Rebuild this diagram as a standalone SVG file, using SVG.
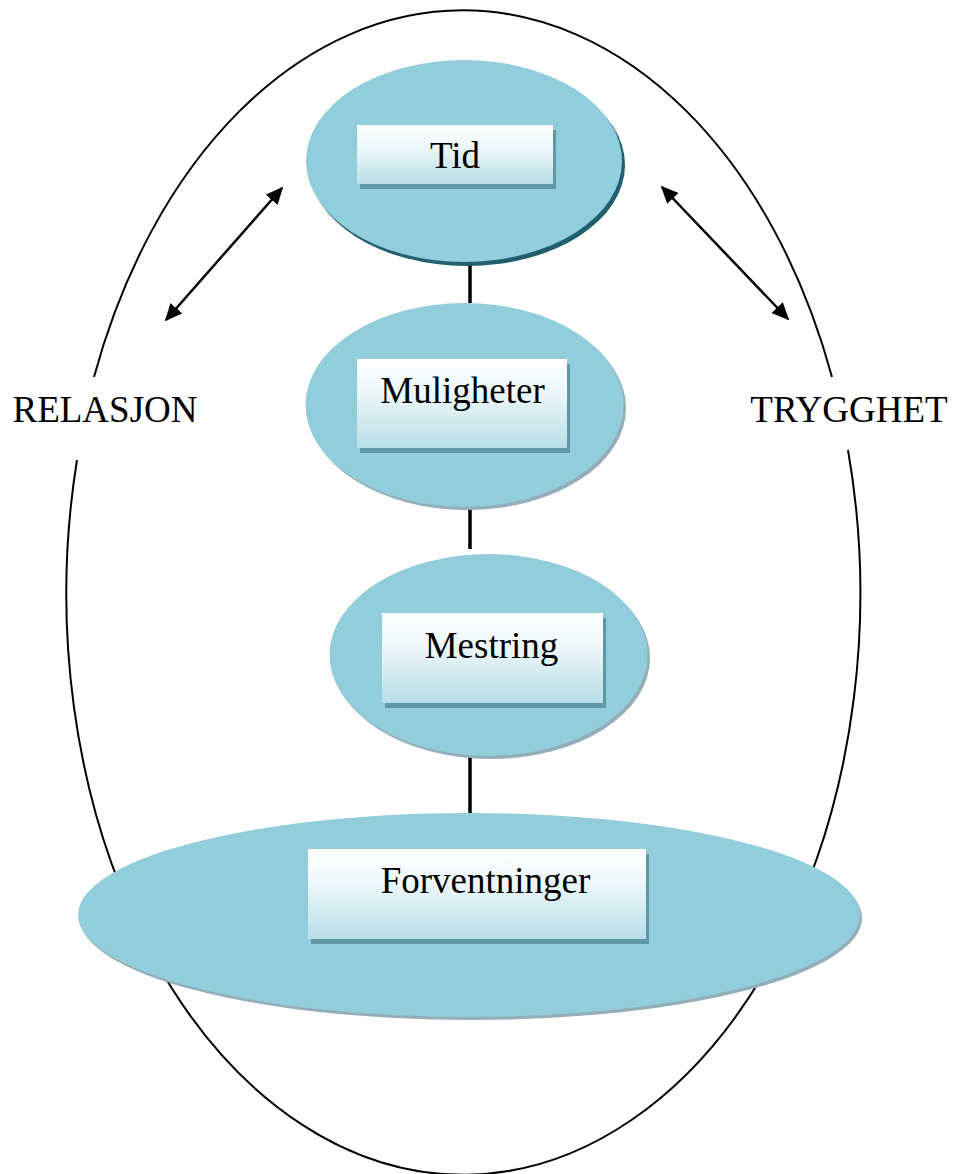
<svg xmlns="http://www.w3.org/2000/svg" width="953" height="1174" viewBox="0 0 953 1174">
<style>
.outer{fill:none;stroke:#000;stroke-width:2}
.ell{fill:#92CDDB}
.sh1{fill:#215E6E}
.sh2{fill:#93AEB8}
.rsh{fill:#5E97A5}
.box{fill:url(#g)}
.lbl{font-family:"Liberation Serif","Times New Roman",serif;font-size:37px;fill:#000;text-anchor:middle}
.conn{stroke:#000;stroke-width:3.5}
.arr{stroke:#000;stroke-width:2.5;fill:none;marker-start:url(#ah);marker-end:url(#ah)}
</style>
<defs>
<linearGradient id="g" x1="0" y1="0" x2="0" y2="1">
<stop offset="0" stop-color="#FFFFFF"/>
<stop offset="0.35" stop-color="#EFF8FA"/>
<stop offset="1" stop-color="#B7DEE7"/>
</linearGradient>
<marker id="ah" viewBox="0 0 10 9" refX="9" refY="4.5" markerWidth="7" markerHeight="6.3" orient="auto-start-reverse" markerUnits="strokeWidth">
<path d="M0,0 L10,4.5 L0,9 z" fill="#000"/>
</marker>
</defs>
<g id="outer-ellipse">
<path class="outer" d="M94,377 A397,581 0 0 1 832,377"/>
<path class="outer" d="M848,450 A397,581 0 1 1 77,460"/>
</g>
<g id="connectors">
<line class="conn" x1="470" y1="262" x2="470" y2="303"/>
<line class="conn" x1="470" y1="507" x2="470" y2="549"/>
<line class="conn" x1="470" y1="757" x2="470" y2="813"/>
<line class="arr" x1="282" y1="188" x2="166" y2="320"/>
<line class="arr" x1="662" y1="187" x2="788" y2="319"/>
</g>
<g id="label-relasjon"><text class="lbl" x="105" y="422">RELASJON</text></g>
<g id="label-trygghet"><text class="lbl" x="849" y="422">TRYGGHET</text></g>
<g id="node-tid">
<ellipse class="sh1" cx="467" cy="165" rx="158" ry="101"/>
<ellipse class="ell" cx="464" cy="161" rx="158" ry="101"/>
<rect class="rsh" x="360" y="130" width="196" height="59"/>
<rect class="box" x="357" y="125" width="196" height="59"/>
<text class="lbl" x="455" y="168">Tid</text>
</g>
<g id="node-muligheter">
<ellipse class="sh2" cx="467" cy="408" rx="159" ry="102"/>
<ellipse class="ell" cx="464.5" cy="405" rx="159" ry="102"/>
<rect class="rsh" x="360" y="364" width="210" height="89"/>
<rect class="box" x="357" y="359" width="210" height="89"/>
<text class="lbl" x="462.5" y="403">Muligheter</text>
</g>
<g id="node-mestring">
<ellipse class="sh2" cx="491" cy="658" rx="159" ry="101"/>
<ellipse class="ell" cx="488.5" cy="655" rx="159" ry="101"/>
<rect class="rsh" x="385" y="618" width="221" height="90"/>
<rect class="box" x="382" y="613" width="221" height="90"/>
<text class="lbl" x="491.5" y="658">Mestring</text>
</g>
<g id="node-forventninger">
<ellipse class="sh2" cx="471" cy="918" rx="391" ry="102"/>
<ellipse class="ell" cx="469" cy="915" rx="391" ry="102"/>
<rect class="rsh" x="311" y="854" width="338" height="90"/>
<rect class="box" x="308" y="849" width="338" height="90"/>
<text class="lbl" x="485.5" y="893">Forventninger</text>
</g>
</svg>
